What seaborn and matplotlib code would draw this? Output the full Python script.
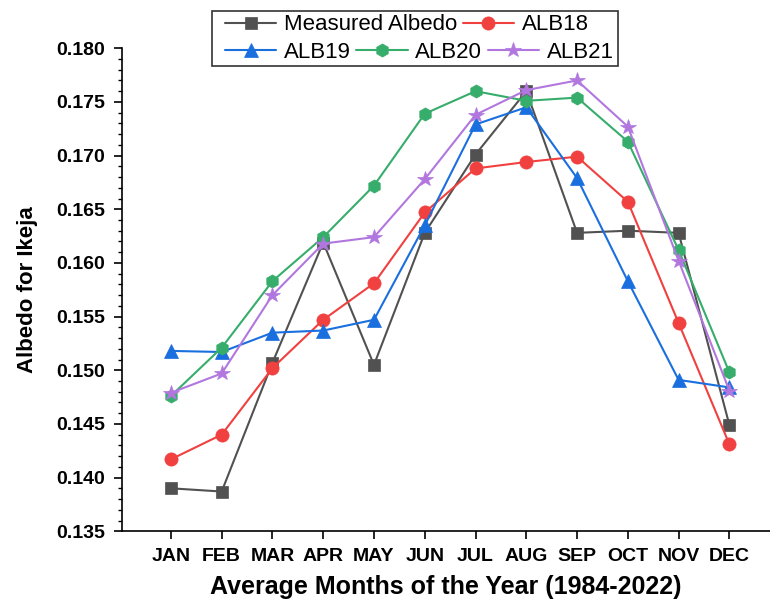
import numpy as np
import pandas as pd
import seaborn as sns
import matplotlib.pyplot as plt
from matplotlib.patches import Rectangle
from matplotlib.ticker import MultipleLocator, AutoMinorLocator

months = ['JAN', 'FEB', 'MAR', 'APR', 'MAY', 'JUN', 'JUL', 'AUG', 'SEP', 'OCT', 'NOV', 'DEC']

measured = [0.1390, 0.1387, 0.1507, 0.1619, 0.1505, 0.1628, 0.1701, 0.1760, 0.1628, 0.1630, 0.1628, 0.1449]
alb18 = [0.1417, 0.1440, 0.1502, 0.1547, 0.1581, 0.1647, 0.1688, 0.1694, 0.1699, 0.1657, 0.1544, 0.1431]
alb19 = [0.1518, 0.1517, 0.1535, 0.1537, 0.1547, 0.1635, 0.1729, 0.1745, 0.1679, 0.1583, 0.1491, 0.1484]
alb20 = [0.1476, 0.1521, 0.1583, 0.1624, 0.1672, 0.1739, 0.1760, 0.1751, 0.1754, 0.1713, 0.1612, 0.1498]
alb21 = [0.1479, 0.1497, 0.1570, 0.1618, 0.1624, 0.1678, 0.1738, 0.1761, 0.1770, 0.1727, 0.1602, 0.1481]

series_names = ['Measured Albedo', 'ALB18', 'ALB19', 'ALB20', 'ALB21']
series_vals = [measured, alb18, alb19, alb20, alb21]
colors = ['#515151', '#F14040', '#1A6FDF', '#37AD6B', '#B177DE']
markers = ['s', 'o', '^', 'h', '*']
msizes = [8, 9.5, 10, 9.5, 11.5]

sns.set_style('ticks')
plt.rcParams['font.family'] = ['Liberation Sans', 'DejaVu Sans']
plt.rcParams['text.color'] = 'black'
plt.rcParams['axes.labelcolor'] = 'black'
plt.rcParams['xtick.color'] = 'black'
plt.rcParams['ytick.color'] = 'black'

fig = plt.figure(figsize=(7.7, 6.03), dpi=100)
ax = fig.add_axes([0.158, 0.119, 0.842, 0.801])

x = np.arange(len(months))
for name, vals, c, m, s in zip(series_names, series_vals, colors, markers, msizes):
    df = pd.DataFrame({'month': x, 'albedo': vals})
    sns.lineplot(data=df, x='month', y='albedo', ax=ax, color=c, marker=m,
                 markersize=s, markeredgecolor=c, markeredgewidth=0.5,
                 linewidth=1.5, label=name, legend=False)

ax.set_xlim(-0.97, 11.8)
ax.set_ylim(0.135, 0.180)
ax.set_xticks(x)
ax.set_xticklabels(months)
ax.yaxis.set_major_locator(MultipleLocator(0.005))
ax.yaxis.set_minor_locator(AutoMinorLocator(5))
ax.yaxis.set_major_formatter(plt.FormatStrFormatter('%.3f'))

for sp in ['top', 'right']:
    ax.spines[sp].set_visible(False)
for sp in ['left', 'bottom']:
    ax.spines[sp].set_linewidth(1.2)
    ax.spines[sp].set_color('black')

ax.tick_params(axis='both', which='major', direction='out', length=6, width=1.2, labelsize=14)
ax.tick_params(axis='y', which='minor', direction='out', length=3, width=1.0)
ax.tick_params(axis='x', pad=6)
ax.tick_params(axis='y', pad=6)
for lab in ax.get_xticklabels() + ax.get_yticklabels():
    lab.set_fontweight('bold')

ax.set_xlabel('Average Months of the Year (1984-2022)', fontsize=18, fontweight='bold', labelpad=7)
ax.set_ylabel('Albedo for Ikeja', fontsize=16, fontweight='bold', labelpad=13)

handles, labels = ax.get_legend_handles_labels()
common = dict(frameon=False, fontsize=16, handlelength=2.3, handletextpad=0.35,
              columnspacing=0.25, borderpad=0, loc='center left')
leg1 = fig.legend(handles[:2], labels[:2], ncol=2, bbox_to_anchor=(214 / 770, 1 - 25 / 603), **common)
leg2 = fig.legend(handles[2:], labels[2:], ncol=3, bbox_to_anchor=(214 / 770, 1 - 52 / 603), **common)
fig.patches.append(Rectangle((212 / 770, 1 - 66 / 603), (618 - 212) / 770, (66 - 11) / 603,
                             transform=fig.transFigure, fill=False, edgecolor='#333333', linewidth=1.2))

fig.savefig('out.png', dpi=100)
